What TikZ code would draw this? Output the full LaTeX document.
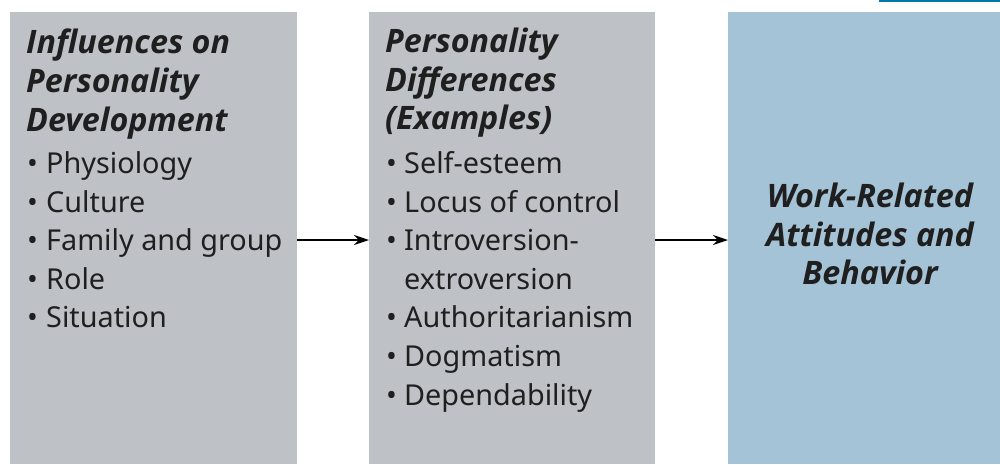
\documentclass[tikz,border=0pt]{standalone}
\usepackage{fontspec}
\setmainfont{Noto Sans}
\newfontfamily\headfont{Open Sans}
\usetikzlibrary{arrows.meta}
\definecolor{boxgray}{RGB}{190,194,198}
\definecolor{boxblue}{RGB}{165,195,215}
\definecolor{topline}{RGB}{0,119,176}
\begin{document}
\begin{tikzpicture}[x=1pt,y=-1pt,
  head/.style={anchor=base west, inner sep=0pt, font=\headfont\fontsize{32.3}{38}\selectfont\bfseries\itshape, text=black!88},
  headc/.style={anchor=base, inner sep=0pt, font=\headfont\fontsize{32.3}{38}\selectfont\bfseries\itshape, text=black!88},
  item/.style={anchor=base west, inner sep=0pt, font=\fontsize{28.8}{38}\selectfont, text=black!88},
  conn/.style={-{Stealth[length=15pt,width=10pt]}, line width=1.6pt, black}]
\useasboundingbox (0,0) rectangle (1000,464);
\fill[topline] (879,0) rectangle (1000,1.5);
% panels
\fill[boxgray] (10,12) rectangle (297,464);
\fill[boxgray] (369,12) rectangle (655,464);
\fill[boxblue] (728,12) rectangle (1000,464);
\coordinate (p1e) at (297,240);
\coordinate (p2w) at (369,240);
\coordinate (p2e) at (655,240);
\coordinate (p3w) at (728,240);
% left column
\node[head] (h1a) at (26,53) {Influences on};
\node[head] (h1b) at (26,92) {Personality};
\node[head] (h1c) at (26,131) {Development};
\foreach \t/\y [count=\i] in {Physiology/173, Culture/212, Family and group/250, Role/289, Situation/327}{
  \node[item] (b1\i) at (27,\y) {•};
  \node[item] (l1\i) at (46,\y) {\t};
}
% middle column
\node[head] (h2a) at (385,52) {Personality};
\node[head] (h2b) at (385,91) {Differences};
\node[head] (h2c) at (385,129) {(Examples)};
\foreach \t/\y [count=\i] in {Self-esteem/173, Locus of control/212, Introversion-/250, Authoritarianism/327, Dogmatism/366, Dependability/405}{
  \node[item] (b2\i) at (386,\y) {•};
  \node[item] (l2\i) at (404,\y) {\t};
}
\node[item] (l2x) at (404,289) {extroversion};
% right column
\node[headc] (h3a) at (870,207) {Work-Related};
\node[headc] (h3b) at (870,246) {Attitudes and};
\node[headc] (h3c) at (870,284) {Behavior};
% connectors
\draw[conn] (p1e) -- (p2w);
\draw[conn] (p2e) -- (p3w);
\end{tikzpicture}
\end{document}
